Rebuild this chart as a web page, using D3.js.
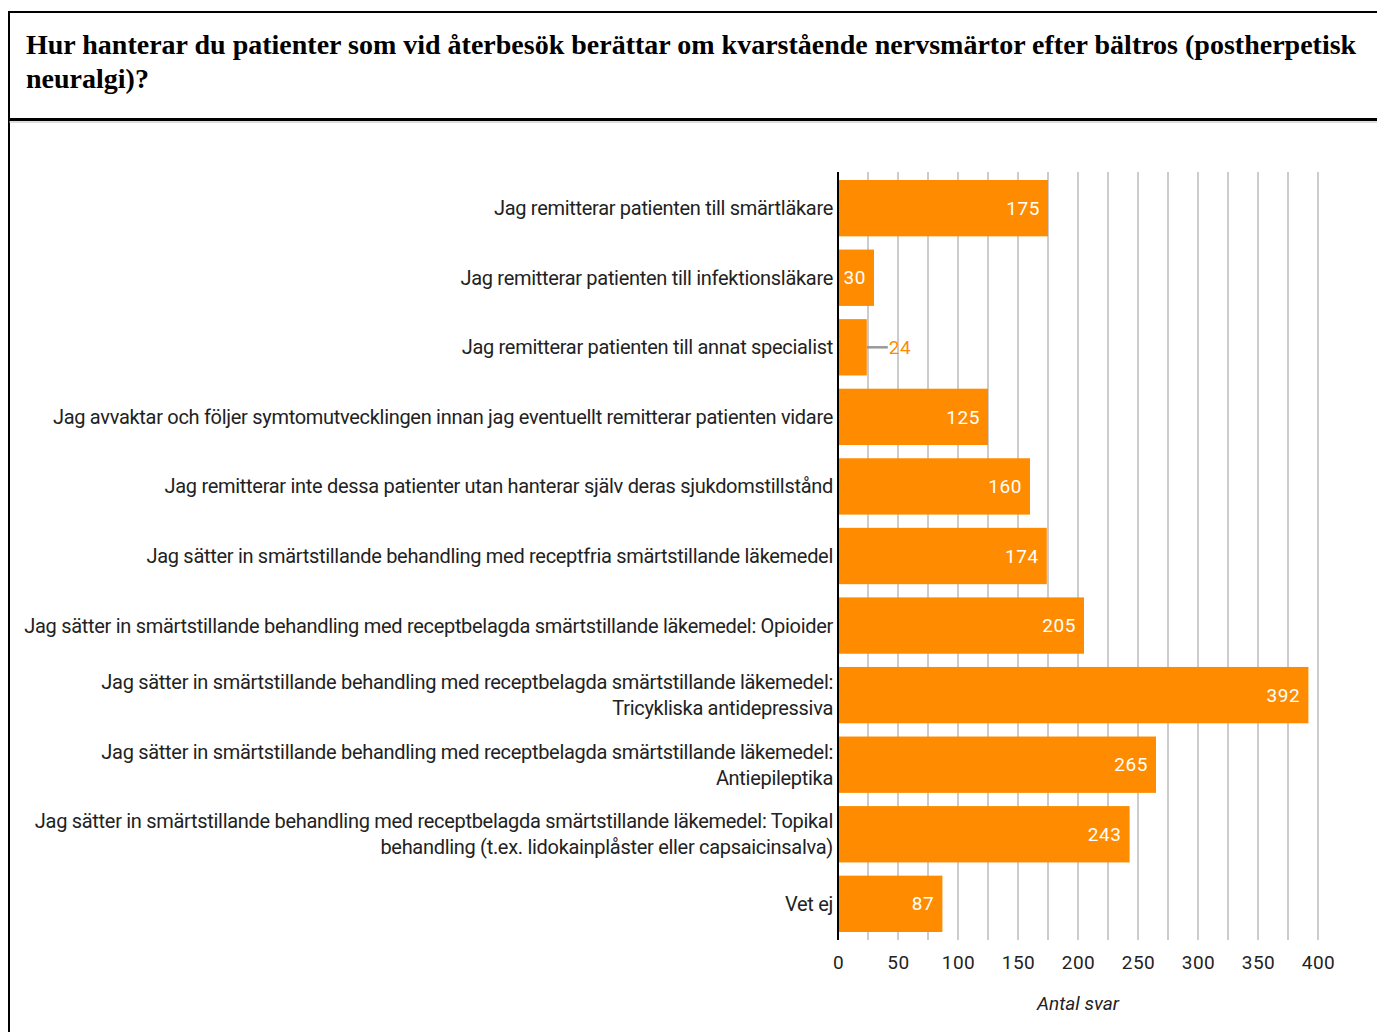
<!DOCTYPE html>
<html>
<head>
<meta charset="utf-8">
<script src="https://cdn.jsdelivr.net/npm/d3@7"></script>
<style>
  body { margin: 0; background: #fff; }
  svg { display: block; }
</style>
</head>
<body>
<div id="chart"></div>
<script>
// Title lines
var titleLines = [
  "Hur hanterar du patienter som vid återbesök berättar om kvarstående nervsmärtor efter bältros (postherpetisk",
  "neuralgi)?"
];

// Categories ("\n" marks a line break in the label)
var categories = [
  "Jag remitterar patienten till smärtläkare",
  "Jag remitterar patienten till infektionsläkare",
  "Jag remitterar patienten till annat specialist",
  "Jag avvaktar och följer symtomutvecklingen innan jag eventuellt remitterar patienten vidare",
  "Jag remitterar inte dessa patienter utan hanterar själv deras sjukdomstillstånd",
  "Jag sätter in smärtstillande behandling med receptfria smärtstillande läkemedel",
  "Jag sätter in smärtstillande behandling med receptbelagda smärtstillande läkemedel: Opioider",
  "Jag sätter in smärtstillande behandling med receptbelagda smärtstillande läkemedel:\nTricykliska antidepressiva",
  "Jag sätter in smärtstillande behandling med receptbelagda smärtstillande läkemedel:\nAntiepileptika",
  "Jag sätter in smärtstillande behandling med receptbelagda smärtstillande läkemedel: Topikal\nbehandling (t.ex. lidokainplåster eller capsaicinsalva)",
  "Vet ej"
];

var values = [175, 30, 24, 125, 160, 174, 205, 392, 265, 243, 87];

var xTicks = [0, 50, 100, 150, 200, 250, 300, 350, 400];
var xTitle = "Antal svar";

var width = 1377;
var height = 1032;
var orange = "#ff8c00";

var svg = d3.select("#chart")
  .append("svg")
  .attr("width", width)
  .attr("height", height);

// Frame round the whole thing
svg.append("rect")
  .attr("x", 9)
  .attr("y", 12)
  .attr("width", width + 20)
  .attr("height", height + 20)
  .attr("fill", "none")
  .attr("stroke", "#000")
  .attr("stroke-width", 2);

// Title
svg.append("g")
  .selectAll("text")
  .data(titleLines)
  .enter()
  .append("text")
  .attr("x", 26)
  .attr("y", function(d, i) { return 54 + i * 34; })
  .attr("font-family", "'Liberation Serif', 'Times New Roman', serif")
  .attr("font-weight", "bold")
  .attr("font-size", "28px")
  .attr("fill", "#000")
  .text(function(d) { return d; });

// Rule under the title
svg.append("line")
  .attr("x1", 9).attr("x2", width)
  .attr("y1", 119.5).attr("y2", 119.5)
  .attr("stroke", "#000")
  .attr("stroke-width", 3);
svg.append("line")
  .attr("x1", 9).attr("x2", width)
  .attr("y1", 122).attr("y2", 122)
  .attr("stroke", "#bbb")
  .attr("stroke-width", 1);

// Scales
var xScale = d3.scaleLinear()
  .domain([0, 400])
  .range([838, 1318]);

var yScale = d3.scaleBand()
  .domain(d3.range(categories.length))
  .range([172, 940])
  .paddingInner(0.19)
  .paddingOuter(0.115);

// Gridlines every 25
svg.append("g")
  .selectAll("line")
  .data(d3.range(25, 401, 25))
  .enter()
  .append("line")
  .attr("x1", function(d) { return xScale(d); })
  .attr("x2", function(d) { return xScale(d); })
  .attr("y1", 172)
  .attr("y2", 940)
  .attr("stroke", "#cccccc")
  .attr("stroke-width", 2);

// Bars
svg.append("g")
  .selectAll("rect")
  .data(values)
  .enter()
  .append("rect")
  .attr("x", xScale(0))
  .attr("y", function(d, i) { return yScale(i); })
  .attr("width", function(d) { return xScale(d) - xScale(0); })
  .attr("height", yScale.bandwidth())
  .attr("fill", orange);

// Value labels
var labelFont = "Roboto, 'Noto Sans', sans-serif";
values.forEach(function(d, i) {
  var cy = yScale(i) + yScale.bandwidth() / 2;
  var barW = xScale(d) - xScale(0);
  if (barW >= 30) {
    svg.append("text")
      .attr("x", xScale(d) - 8)
      .attr("y", cy)
      .attr("dy", "0.35em")
      .attr("text-anchor", "end")
      .attr("font-family", labelFont)
      .attr("font-size", "19px")
      .attr("letter-spacing", "0.6px")
      .attr("fill", "#fff")
      .text(d);
  } else {
    svg.append("line")
      .attr("x1", xScale(d))
      .attr("x2", xScale(d) + 21)
      .attr("y1", cy)
      .attr("y2", cy)
      .attr("stroke", "#999")
      .attr("stroke-width", 2.5);
    svg.append("text")
      .attr("x", xScale(d) + 22)
      .attr("y", cy)
      .attr("dy", "0.35em")
      .attr("font-family", labelFont)
      .attr("font-size", "19px")
      .attr("letter-spacing", "0.6px")
      .attr("fill", orange)
      .text(d);
  }
});

// Category labels
var catG = svg.append("g");
categories.forEach(function(c, i) {
  var lines = c.split("\n");
  var cy = yScale(i) + yScale.bandwidth() / 2;
  var t = catG.append("text")
    .attr("text-anchor", "end")
    .attr("font-family", labelFont)
    .attr("font-size", "20px")
    .attr("letter-spacing", "-0.3px")
    .attr("fill", "#222");
  lines.forEach(function(l, j) {
    t.append("tspan")
      .attr("x", 833)
      .attr("y", cy + (j - (lines.length - 1) / 2) * 26)
      .attr("dy", "0.35em")
      .text(l);
  });
});

// Vertical axis line
svg.append("line")
  .attr("x1", xScale(0)).attr("x2", xScale(0))
  .attr("y1", 172).attr("y2", 940)
  .attr("stroke", "#000")
  .attr("stroke-width", 2);

// X axis tick labels
var xAxis = d3.axisBottom(xScale)
  .tickValues(xTicks)
  .tickSize(0)
  .tickPadding(0);

var axisG = svg.append("g")
  .attr("transform", "translate(0, 955)")
  .call(xAxis);
axisG.select(".domain").remove();
axisG.selectAll("text")
  .attr("font-family", labelFont)
  .attr("font-size", "19px")
  .attr("letter-spacing", "0.5px")
  .attr("fill", "#222");

// Axis title
svg.append("text")
  .attr("x", (xScale(0) + xScale(400)) / 2)
  .attr("y", 1010)
  .attr("text-anchor", "middle")
  .attr("font-family", labelFont)
  .attr("font-style", "italic")
  .attr("font-size", "19px")
  .attr("fill", "#222")
  .text(xTitle);
</script>
</body>
</html>
